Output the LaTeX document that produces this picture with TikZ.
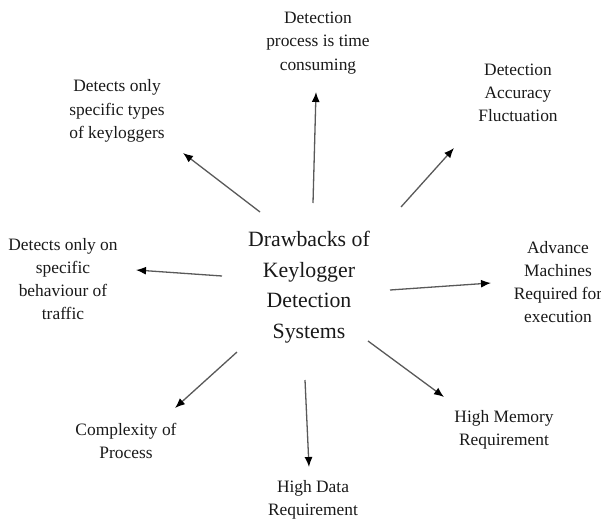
\documentclass[tikz,border=0pt]{standalone}
\usepackage{fontspec}
\setmainfont{Liberation Serif}
\usetikzlibrary{arrows.meta}

\tikzset{
  idea/.style={align=center,inner sep=0pt,text=black!90,font=\fontsize{17.4}{23.2}\selectfont},
  hubtext/.style={align=center,inner sep=0pt,text=black!90,font=\fontsize{21.8}{30.5}\selectfont},
  arr/.style={->,draw=black!65,line width=1.3pt}
}

\begin{document}
\begin{tikzpicture}[>={Latex[length=10pt,width=8pt,color=black]},x=1pt,y=-1pt]
\useasboundingbox (0,0) rectangle (601,522);
\node[hubtext] (hub) at (309,287) {Drawbacks of\\Keylogger\\Detection\\Systems};
\node[idea] (top) at (318,43) {Detection\\process is time\\consuming};
\node[idea] (types) at (117,111) {Detects only\\specific types\\of keyloggers};
\node[idea] (accuracy) at (518,93) {Detection\\Accuracy\\Fluctuation};
\node[idea] (traffic) at (63,279) {Detects only on\\specific\\behaviour of\\traffic};
\node[idea] (machines) at (558,282) {Advance\\Machines\\Required for\\execution};
\node[idea] (complexity) at (126,441) {Complexity of\\Process};
\node[idea] (data) at (313,500) {High Data\\Requirement};
\node[idea] (memory) at (504,430) {High Memory\\Requirement};
\draw[arr] ([shift={(4,-84)}]hub.center) -- ([shift={(-2,49)}]top.center);
\draw[arr] ([shift={(-49,-75)}]hub.center) -- ([shift={(66,42)}]types.center);
\draw[arr] ([shift={(92,-80)}]hub.center) -- ([shift={(-64,55)}]accuracy.center);
\draw[arr] ([shift={(-87,-11)}]hub.center) -- ([shift={(73,-9)}]traffic.center);
\draw[arr] ([shift={(81,3)}]hub.center) -- ([shift={(-67,1)}]machines.center);
\draw[arr] ([shift={(-72,65)}]hub.center) -- ([shift={(49,-33)}]complexity.center);
\draw[arr] ([shift={(-4,93)}]hub.center) -- ([shift={(-4,-33)}]data.center);
\draw[arr] ([shift={(59,54)}]hub.center) -- ([shift={(-60,-33)}]memory.center);
\end{tikzpicture}
\end{document}
